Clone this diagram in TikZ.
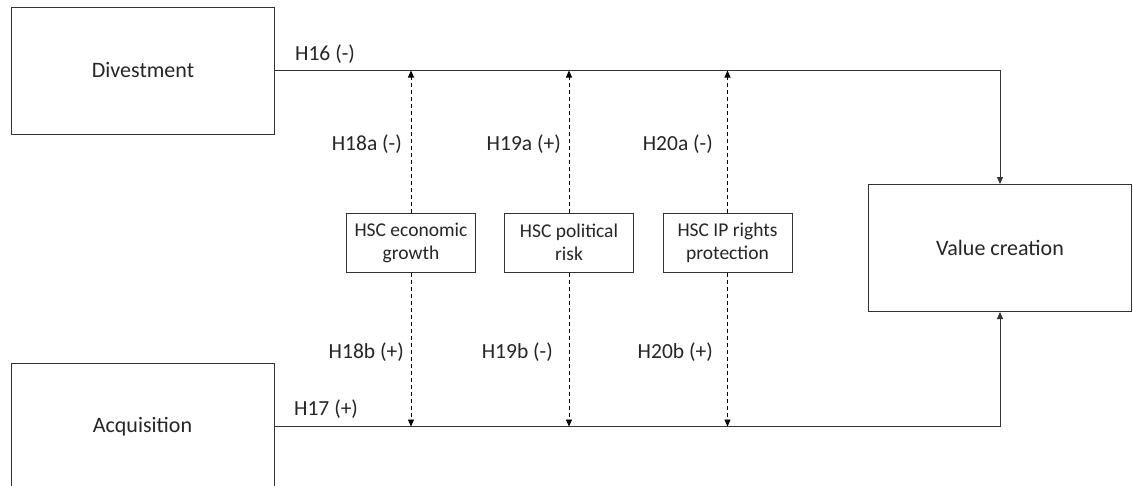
\documentclass[tikz,border=0pt]{standalone}
\usepackage{fontspec}
\setmainfont{Carlito}
\usetikzlibrary{arrows.meta}
\definecolor{ink}{HTML}{262626}
\definecolor{rule}{HTML}{333333}
\tikzset{
  bigbox/.style={draw=rule, line width=1pt, minimum width=263pt, minimum height=127pt,
    inner sep=0pt, text=ink, font=\fontsize{22}{26}\selectfont},
  modbox/.style={draw=rule, line width=1pt, minimum width=129pt, minimum height=59pt,
    inner sep=0pt, text=ink, align=center, font=\fontsize{19.5}{23}\selectfont},
  lbl/.style={text=ink, inner sep=0pt, font=\fontsize{21.5}{25}\selectfont},
  flow/.style={draw=rule, line width=1pt, -{Triangle[length=7pt,width=6pt]}},
  modarrow/.style={draw=black, line width=0.9pt, dash pattern=on 4pt off 3pt,
    -{Triangle[length=7pt,width=6pt]}}
}
\begin{document}
\begin{tikzpicture}[x=1pt,y=-1pt]
\useasboundingbox (0,0) rectangle (1133,485);
\fill[white] (0,0) rectangle (1133,485);

% main constructs
\node[bigbox] (div) at (143,70.5) {Divestment};
\node[bigbox] (acq) at (142.5,426.5) {Acquisition};
\node[bigbox] (val) at (1000,248) {Value creation};

% moderators
\node[modbox] (m1) at (411,242.5) {HSC economic\\growth};
\node[modbox] (m2) at (569,242.5) {HSC political\\risk};
\node[modbox] (m3) at (727.5,242.5) {HSC IP rights\\protection};

% main effects
\draw[flow] (div.east) -- (div.east -| val.north) -- (val.north);
\draw[flow] (acq.east) -- (acq.east -| val.south) -- (val.south);

% moderating effects
\foreach \m in {m1,m2,m3}{
  \draw[modarrow] (\m.north) -- (\m.north |- div.east);
  \draw[modarrow] (\m.south) -- (\m.south |- acq.east);
}

% hypothesis labels
\node[lbl, anchor=west] (h16) at (295,54) {H16 (-)};
\node[lbl, anchor=west] (h17) at (294,409) {H17 (+)};
\node[lbl, anchor=east] (h18a) at (402,144) {H18a (-)};
\node[lbl, anchor=east] (h19a) at (561,144) {H19a (+)};
\node[lbl, anchor=east] (h20a) at (713,144) {H20a (-)};
\node[lbl, anchor=east] (h18b) at (404,352) {H18b (+)};
\node[lbl, anchor=east] (h19b) at (553,352) {H19b (-)};
\node[lbl, anchor=east] (h20b) at (713,352) {H20b (+)};
\end{tikzpicture}
\end{document}
